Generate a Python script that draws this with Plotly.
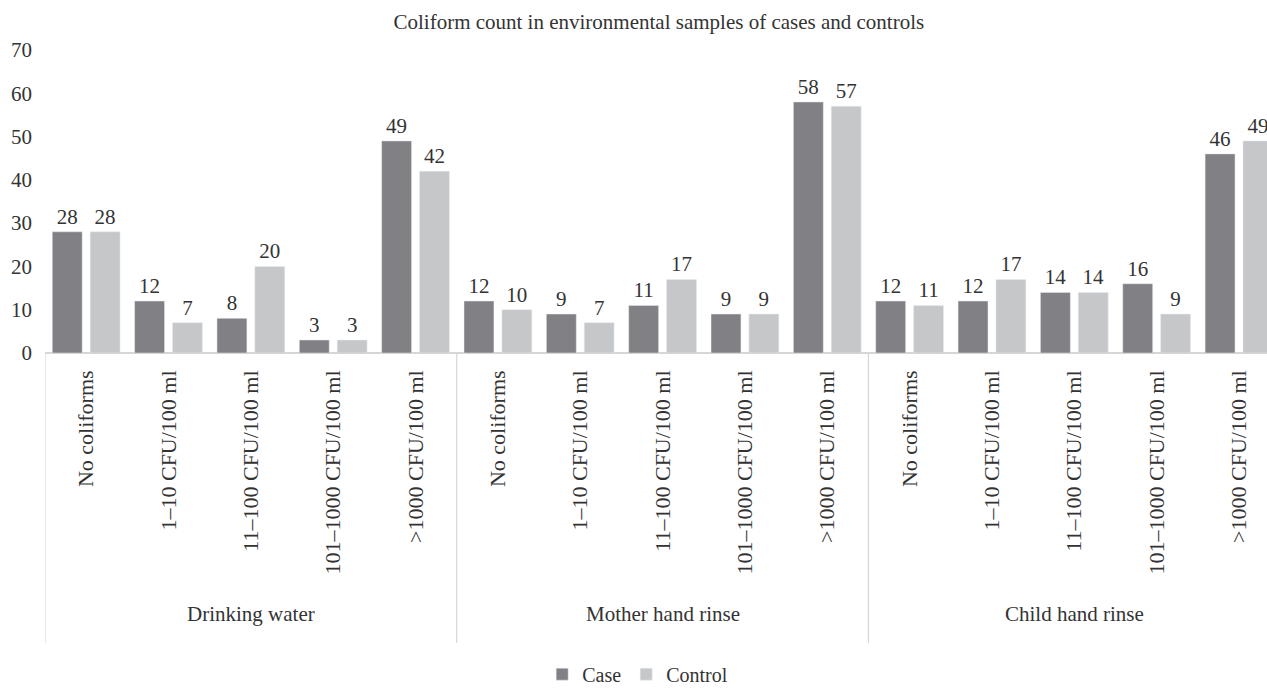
import plotly.graph_objects as go

groups = ["Drinking water", "Mother hand rinse", "Child hand rinse"]
levels = ["No coliforms", "1–10 CFU/100 ml", "11–100 CFU/100 ml",
          "101–1000 CFU/100 ml", ">1000 CFU/100 ml"]
case_vals = [28, 12, 8, 3, 49, 12, 9, 11, 9, 58, 12, 12, 14, 16, 46]
control_vals = [28, 7, 20, 3, 42, 10, 7, 17, 9, 57, 11, 17, 14, 9, 49]
y_ticks = [0, 10, 20, 30, 40, 50, 60, 70]

FONT = "Liberation Serif"
TXT = "#333333"
CASE_C = "#808085"
CTRL_C = "#c6c7c9"
LINE_C = "#d6d6d6"

n = len(case_vals)
xpos = list(range(n))
tick_text = [levels[i % len(levels)] for i in range(n)]

fig = go.Figure()
fig.add_trace(go.Bar(x=xpos, y=case_vals, name="Case", marker_color=CASE_C,
                     text=case_vals, textposition="outside", cliponaxis=False,
                     textfont=dict(family=FONT, size=21, color=TXT)))
fig.add_trace(go.Bar(x=xpos, y=control_vals, name="Control", marker_color=CTRL_C,
                     text=control_vals, textposition="outside", cliponaxis=False,
                     textfont=dict(family=FONT, size=21, color=TXT)))

# group dividers and labels
for k in range(len(groups) + 1):
    fig.add_shape(type="line", xref="x", yref="paper",
                  x0=k * 5 - 0.5, x1=k * 5 - 0.5, y0=0, y1=-0.957,
                  line=dict(color=LINE_C, width=1.2))
for k, g in enumerate(groups):
    fig.add_annotation(x=k * 5 + 2, y=-0.862, xref="x", yref="paper",
                       text=g, showarrow=False,
                       font=dict(family=FONT, size=21, color=TXT),
                       yanchor="middle")

fig.update_layout(
    width=1267, height=688,
    margin=dict(l=45, r=0, t=50, b=335, autoexpand=False),
    plot_bgcolor="white", paper_bgcolor="white",
    barmode="group", bargap=0.08, bargroupgap=0.21,
    title=dict(text="Coliform count in environmental samples of cases and controls",
               x=0.52, xanchor="center", y=0.968, yanchor="middle",
               font=dict(family=FONT, size=21, color=TXT)),
    font=dict(family=FONT, color=TXT),
    showlegend=True,
    legend=dict(orientation="h", x=0.485, xanchor="center", y=-1.06,
                yanchor="middle", font=dict(family=FONT, size=20, color=TXT),
                itemwidth=30, traceorder="normal"),
    xaxis=dict(range=[-0.5, 14.34], tickmode="array", tickvals=xpos,
               ticktext=tick_text, tickangle=-90, showgrid=False,
               zeroline=False, showline=False, ticks="",
               ticklabelstandoff=12,
               tickfont=dict(family=FONT, size=22, color=TXT)),
    yaxis=dict(range=[0, 70], tickmode="array", tickvals=y_ticks,
               showgrid=False, zeroline=True, zerolinecolor=LINE_C,
               zerolinewidth=1.5, showline=False, ticks="",
               ticklabelstandoff=12,
               tickfont=dict(family=FONT, size=21, color=TXT)),
)

fig.write_html("out.html")
